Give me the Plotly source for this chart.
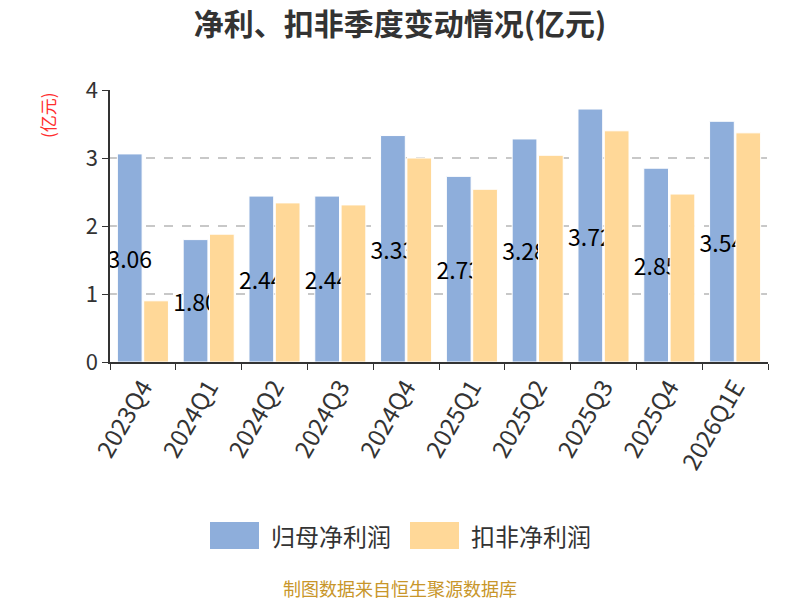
import plotly.graph_objects as go

categories = ["2023Q4", "2024Q1", "2024Q2", "2024Q3", "2024Q4",
              "2025Q1", "2025Q2", "2025Q3", "2025Q4", "2026Q1E"]
net_profit = [3.06, 1.80, 2.44, 2.44, 3.33, 2.73, 3.28, 3.72, 2.85, 3.54]
deducted_profit = [0.90, 1.88, 2.34, 2.31, 3.00, 2.54, 3.04, 3.40, 2.47, 3.37]
series_names = ["归母净利润", "扣非净利润"]
colors = ["#8eaedb", "#ffd898"]
y_ticks = [0, 1, 2, 3, 4]

font_family = "Noto Sans CJK SC, Noto Sans, sans-serif"

fig = go.Figure()
fig.add_trace(go.Bar(
    x=categories, y=net_profit, name=series_names[0],
    marker=dict(color=colors[0], line=dict(color="white", width=1)),
    text=[f"{v:.2f}" for v in net_profit],
    textposition="inside", insidetextanchor="middle", constraintext="none",
    textangle=0,
    textfont=dict(color="black", size=23, family=font_family),
    showlegend=False,
))
fig.add_trace(go.Bar(
    x=categories, y=deducted_profit, name=series_names[1],
    marker=dict(color=colors[1], line=dict(color="white", width=1)),
    showlegend=False,
))

W, H = 800, 600
ml, mr, mt, mb = 110, 32, 90, 238
pw, ph = W - ml - mr, H - mt - mb


def px_to_paper(x, y):
    return (x - ml) / pw, (H - mb - y) / ph


lx = [210, 410]
shapes = []
annotations = []
for i, col in enumerate(colors):
    x0p, y1p = px_to_paper(lx[i], 522)
    x1p, y0p = px_to_paper(lx[i] + 49, 549)
    shapes.append(dict(type="rect", xref="paper", yref="paper",
                       x0=x0p, x1=x1p, y0=y0p, y1=y1p,
                       fillcolor=col, line=dict(width=0)))
for i, name in enumerate(series_names):
    xp, yp = px_to_paper(lx[i] + 59, 535)
    annotations.append(dict(text=name, x=xp, y=yp, xref="paper", yref="paper",
                            xanchor="left", yanchor="middle", showarrow=False,
                            font=dict(size=24, color="#333", family=font_family)))

xp, yp = px_to_paper(47, 115)
annotations.append(dict(text="(亿元)", x=xp, y=yp, xref="paper", yref="paper",
                        textangle=-90, showarrow=False, xanchor="center", yanchor="middle",
                        font=dict(size=17, color="#ff2d2d", family=font_family)))
xp, yp = px_to_paper(400, 588)
annotations.append(dict(text="制图数据来自恒生聚源数据库", x=xp, y=yp, xref="paper", yref="paper",
                        showarrow=False, xanchor="center", yanchor="middle",
                        font=dict(size=18, color="#c8962a", family=font_family)))

fig.update_layout(
    width=W, height=H,
    margin=dict(l=ml, r=mr, t=mt, b=mb),
    paper_bgcolor="white", plot_bgcolor="white",
    title=dict(text="<b>净利、扣非季度变动情况(亿元)</b>", x=0.5, xanchor="center",
               y=1 - 24 / H, yanchor="middle",
               font=dict(size=30, color="#333", family=font_family)),
    barmode="group", bargap=0.2, bargroupgap=0.06,
    shapes=shapes, annotations=annotations,
    xaxis=dict(
        type="category", tickangle=-60, tickson="boundaries",
        ticks="outside", ticklen=6, tickcolor="#333",
        showline=True, linecolor="#333", linewidth=1.5,
        tickfont=dict(size=24, color="#333", family=font_family),
        showgrid=False,
    ),
    yaxis=dict(
        range=[0, 4], tickvals=y_ticks,
        ticks="outside", ticklen=6, tickcolor="#333",
        showline=True, linecolor="#333", linewidth=1.5,
        showgrid=True, gridcolor="#c8c8c8", griddash="dash", gridwidth=1.5,
        zeroline=False,
        tickfont=dict(size=22, color="#333", family=font_family),
    ),
)

fig.write_html("out.html")
